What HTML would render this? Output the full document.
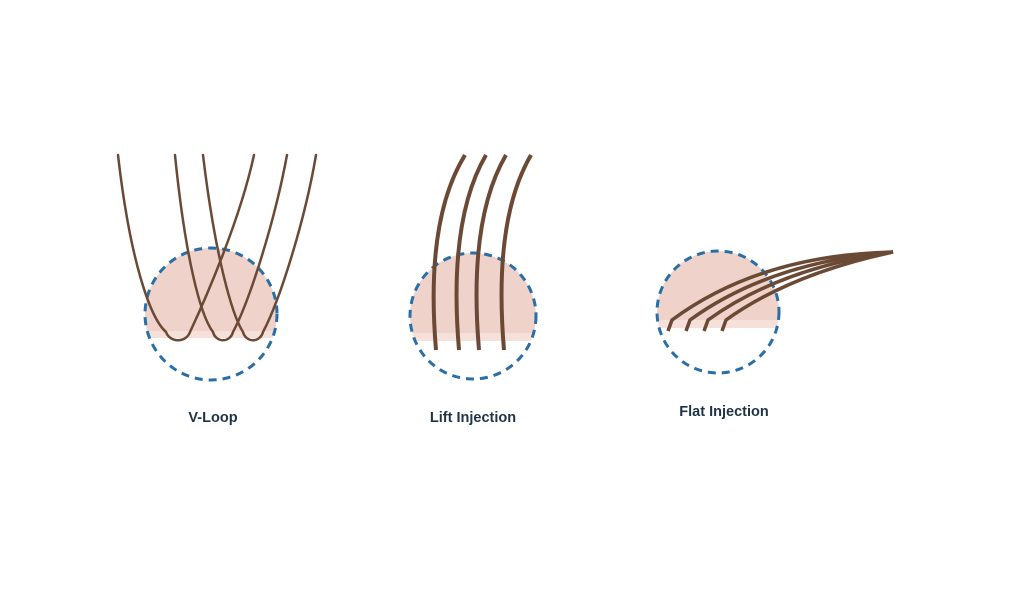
<!DOCTYPE html>
<html><head><style>
html,body{margin:0;padding:0;background:#fff;}
svg{display:block;}
text{font-family:"Liberation Sans",sans-serif;font-weight:bold;font-size:14.5px;fill:#1f3347;}
</style></head><body>
<svg width="1024" height="597" viewBox="0 0 1024 597">
<defs>
<clipPath id="c1"><circle cx="211" cy="314" r="66"/></clipPath>
<clipPath id="c2"><circle cx="473" cy="316" r="63"/></clipPath>
<clipPath id="c3"><circle cx="718" cy="312" r="61"/></clipPath>
</defs>
<g clip-path="url(#c1)">
<rect x="140" y="240" width="145" height="92" fill="#efd3cb"/>
<rect x="140" y="331" width="145" height="7" fill="#f5e0da"/>
</g>
<circle cx="211" cy="314" r="66" fill="none" stroke="#2a6ea6" stroke-width="3" stroke-dasharray="8 6"/>
<g fill="none" stroke="#6b4a35" stroke-linecap="round" stroke-width="2.5">
<path d="M118 155 C130 260 150 318 166 332 C170 343 186 343 190 332 C205 300 240 220 254 155"/>
<path d="M175 155 C185 255 200 315 213 332 C216 343 230 343 233 332 C250 300 275 220 287 155"/>
<path d="M203 155 C215 255 232 315 243 332 C246 343 260 343 263 332 C280 300 305 220 316 155"/>
</g>
<g clip-path="url(#c2)">
<rect x="405" y="250" width="140" height="84" fill="#efd3cb"/>
<rect x="405" y="333" width="140" height="8" fill="#f5e0da"/>
</g>
<circle cx="473" cy="316" r="63" fill="none" stroke="#2a6ea6" stroke-width="3" stroke-dasharray="8 6"/>
<g fill="none" stroke="#6b4a35" stroke-width="4">
<path d="M436 350 Q425 220 465 155"/>
<path d="M459 350 Q448 220 486 155"/>
<path d="M479 350 Q468 220 506 155"/>
<path d="M504 350 Q493 220 531 155"/>
</g>
<g clip-path="url(#c3)">
<rect x="650" y="245" width="140" height="76" fill="#efd3cb"/>
<rect x="650" y="320" width="140" height="8" fill="#f5e0da"/>
</g>
<circle cx="718" cy="312" r="61" fill="none" stroke="#2a6ea6" stroke-width="3" stroke-dasharray="8 6"/>
<g fill="none" stroke="#6b4a35" stroke-width="3.5">
<path d="M668 331 L672 320 Q760 255 893 252"/>
<path d="M686 331 L690 320 Q770 262 893 252"/>
<path d="M704 331 L708 320 Q780 268 893 252"/>
<path d="M722 331 L726 320 Q790 274 893 252"/>
</g>
<text x="213" y="422" text-anchor="middle">V-Loop</text>
<text x="473" y="422" text-anchor="middle">Lift Injection</text>
<text x="724" y="416" text-anchor="middle">Flat Injection</text>
</svg>
</body></html>
